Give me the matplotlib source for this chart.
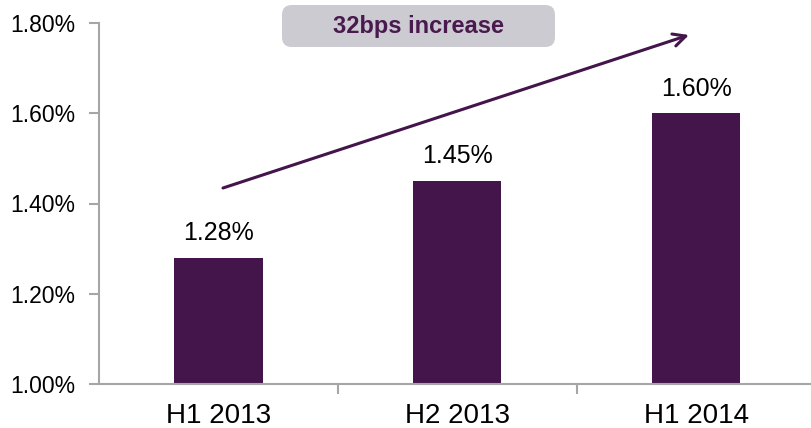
import matplotlib
matplotlib.use("Agg")
import matplotlib.pyplot as plt
from matplotlib.patches import FancyBboxPatch
from matplotlib.ticker import FixedLocator, NullFormatter

categories = ["H1 2013", "H2 2013", "H1 2014"]
values = [1.28, 1.45, 1.60]
value_labels = ["1.28%", "1.45%", "1.60%"]
yticks = [1.00, 1.20, 1.40, 1.60, 1.80]
ytick_labels = ["1.00%", "1.20%", "1.40%", "1.60%", "1.80%"]
callout = "32bps increase"

plt.rcParams['font.family'] = ['Liberation Sans', 'DejaVu Sans']
W, H = 811, 428
fig = plt.figure(figsize=(W / 100, H / 100), dpi=100)
left, right, top, bottom = 99, 815.5, 23, 384
ax = fig.add_axes([left / W, 1 - bottom / H, (right - left) / W, (bottom - top) / H])

bar_color = "#43154A"
axis_color = "#A6A6A6"
x = list(range(len(categories)))
ax.bar(x, values, width=0.37, color=bar_color, zorder=2)
ax.set_xlim(-0.5, len(categories) - 0.5)
ax.set_ylim(1.0, 1.8)

for xi, v, lab in zip(x, values, value_labels):
    ax.annotate(lab, (xi, v), xytext=(0, 9), textcoords="offset points",
                ha="center", va="bottom", fontsize=18, color="#000000")

ax.set_yticks(yticks)
ax.set_yticklabels(ytick_labels, fontsize=16.5)
ax.set_xticks(x)
ax.set_xticklabels(categories, fontsize=20)
ax.tick_params(axis="x", which="major", length=0, pad=14)
ax.xaxis.set_minor_locator(FixedLocator([0.5, 1.5]))
ax.xaxis.set_minor_formatter(NullFormatter())
ax.tick_params(axis="x", which="minor", length=7, width=1.5, color=axis_color, direction="out")
ax.tick_params(axis="y", length=7, width=1.5, color=axis_color, direction="out", pad=10)

for s in ["top", "right"]:
    ax.spines[s].set_visible(False)
for s in ["left", "bottom"]:
    ax.spines[s].set_color(axis_color)
    ax.spines[s].set_linewidth(1.5)

# arrow in axes data coordinates from pixel estimates
def px_to_data(px, py):
    disp = fig.transFigure.transform((px / W, 1 - py / H))
    return ax.transData.inverted().transform(disp)

p0 = px_to_data(223, 188)
p1 = px_to_data(689, 35)
ax.annotate("", xy=p1, xytext=p0,
            arrowprops=dict(arrowstyle="->,head_length=0.9,head_width=0.45",
                            color=bar_color, lw=2.2, shrinkA=0, shrinkB=0),
            annotation_clip=False)

# callout box in figure coordinates
bx0, bx1, by0, by1 = 282, 555, 5, 47
box = FancyBboxPatch((bx0 / W, 1 - by1 / H), (bx1 - bx0) / W, (by1 - by0) / H,
                     boxstyle="round,pad=0,rounding_size=0.012",
                     transform=fig.transFigure, facecolor="#CCCBD1",
                     edgecolor="none", zorder=3, mutation_aspect=W / H)
fig.patches.append(box)
fig.text((bx0 + bx1) / 2 / W, 1 - (by0 + by1) / 2 / H, callout,
         ha="center", va="center", fontsize=17, fontweight="bold",
         color="#4A1A4E", zorder=4)

fig.savefig("out.png", dpi=100)
